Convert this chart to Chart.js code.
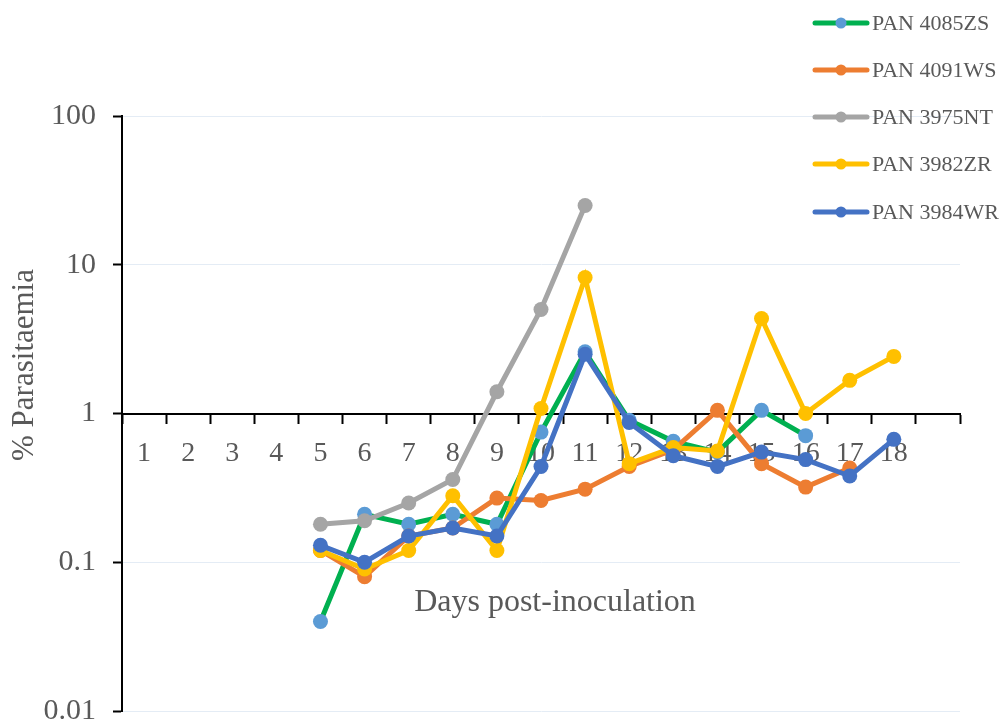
<!DOCTYPE html>
<html lang="en">
<head>
    <meta charset="UTF-8">
    <title>% Parasitaemia by day</title>
    <script src="https://cdn.jsdelivr.net/npm/chart.js@4.4.0/dist/chart.umd.min.js"></script>
    <style>
        html, body {
            margin: 0;
            padding: 0;
            background: #fff;
        }
        .wrap {
            width: 1005px;
            height: 720px;
        }
    </style>
</head>
<body>
<div class="wrap">
    <canvas id="myChart" width="1005" height="720"></canvas>
</div>

<script>
    // x categories (last slot is empty in the original)
    var days = ['1', '2', '3', '4', '5', '6', '7', '8', '9', '10', '11', '12', '13', '14', '15', '16', '17', '18', ''];
    var yTicks = [100, 10, 1, 0.1, 0.01];

    var seriesNames = ['PAN 4085ZS', 'PAN 4091WS', 'PAN 3975NT', 'PAN 3982ZR', 'PAN 3984WR'];

    var pan4085ZS = [null, null, null, null, 0.04, 0.21, 0.18, 0.21, 0.18, 0.75, 2.6, 0.9, 0.65, 0.55, 1.05, 0.71, null, null, null];
    var pan4091WS = [null, null, null, null, 0.12, 0.08, 0.15, 0.17, 0.27, 0.26, 0.31, 0.44, 0.57, 1.05, 0.46, 0.32, 0.43, null, null];
    var pan3975NT = [null, null, null, null, 0.18, 0.19, 0.25, 0.36, 1.4, 5, 25, null, null, null, null, null, null, null, null];
    var pan3982ZR = [null, null, null, null, 0.12, 0.09, 0.12, 0.28, 0.12, 1.08, 8.2, 0.46, 0.59, 0.56, 4.35, 1.0, 1.67, 2.42, null];
    var pan3984WR = [null, null, null, null, 0.13, 0.1, 0.15, 0.17, 0.15, 0.44, 2.5, 0.87, 0.52, 0.44, 0.55, 0.49, 0.38, 0.67, null];

    var lineColors = ['#00B050', '#ED7D31', '#A5A5A5', '#FFC000', '#4472C4'];
    var markerColors = ['#5B9BD5', '#ED7D31', '#A5A5A5', '#FFC000', '#4472C4'];

    var fontFam = '"Liberation Serif", "Times New Roman", serif';
    var textColor = '#595959';

    function makeSet(i, values) {
        return {
            label: seriesNames[i],
            data: values,
            borderColor: lineColors[i],
            backgroundColor: markerColors[i],
            pointBackgroundColor: markerColors[i],
            pointBorderColor: markerColors[i],
            borderWidth: 5,
            pointRadius: 7.5,
            pointBorderWidth: 0,
            tension: 0,
            order: 5 - i
        };
    }

    // axis titles + legend drawn by hand, like the office chart
    var extras = {
        id: 'extras',
        afterDraw: function(chart) {
            var ctx = chart.ctx;
            ctx.save();
            ctx.fillStyle = textColor;

            ctx.font = '32px ' + fontFam;
            ctx.textAlign = 'center';
            ctx.textBaseline = 'middle';
            ctx.fillText('Days post-inoculation', 555, 603);

            ctx.font = '31px ' + fontFam;
            ctx.save();
            ctx.translate(25, 365);
            ctx.rotate(-Math.PI / 2);
            ctx.fillText('% Parasitaemia', 0, 0);
            ctx.restore();

            ctx.font = '22px ' + fontFam;
            ctx.textAlign = 'left';
            var rows = [23, 70, 117, 164, 212];
            chart.data.datasets.forEach(function(ds, i) {
                var y = rows[i];
                ctx.strokeStyle = ds.borderColor;
                ctx.lineWidth = 5;
                ctx.lineCap = 'round';
                ctx.beginPath();
                ctx.moveTo(815, y);
                ctx.lineTo(867, y);
                ctx.stroke();
                ctx.fillStyle = ds.pointBackgroundColor;
                ctx.beginPath();
                ctx.arc(841, y, 5.5, 0, Math.PI * 2);
                ctx.fill();
                ctx.fillStyle = textColor;
                ctx.fillText(ds.label, 872, y + 1);
            });
            ctx.restore();
        }
    };

    let ctx = document.getElementById("myChart").getContext("2d");
    let myChart = new Chart(ctx, {
        type: "line",
        data: {
            labels: days,
            datasets: [
                makeSet(0, pan4085ZS),
                makeSet(1, pan4091WS),
                makeSet(2, pan3975NT),
                makeSet(3, pan3982ZR),
                makeSet(4, pan3984WR)
            ]
        },
        options: {
            responsive: false,
            animation: false,
            layout: {
                padding: {top: 116, bottom: 9, right: 45, left: 0}
            },
            plugins: {
                legend: {display: false},
                tooltip: {enabled: false}
            },
            scales: {
                x: {
                    type: 'category',
                    position: {y: 1},
                    offset: true,
                    afterFit: function(scale) {
                        scale.height = 0;
                        scale.paddingLeft = 0;
                        scale.paddingRight = 0;
                        scale.paddingTop = 0;
                        scale.paddingBottom = 0;
                    },
                    grid: {
                        offset: true,
                        drawOnChartArea: false,
                        drawTicks: true,
                        tickLength: 9,
                        tickWidth: 2,
                        tickColor: '#000'
                    },
                    border: {color: '#000', width: 2},
                    ticks: {
                        color: textColor,
                        font: {family: fontFam, size: 28},
                        padding: 14,
                        maxRotation: 0,
                        autoSkip: false
                    }
                },
                y: {
                    type: 'logarithmic',
                    min: 0.01,
                    max: 100,
                    afterBuildTicks: function(scale) {
                        scale.ticks = yTicks.map(function(v) { return {value: v}; });
                    },
                    afterFit: function(scale) {
                        scale.width = 122;
                        scale.paddingTop = 0;
                        scale.paddingBottom = 0;
                    },
                    grid: {
                        color: '#E4ECF5',
                        lineWidth: 1,
                        drawTicks: true,
                        tickLength: 9,
                        tickWidth: 2,
                        tickColor: '#000'
                    },
                    border: {color: '#000', width: 2},
                    ticks: {
                        color: textColor,
                        font: {family: fontFam, size: 30},
                        padding: 17,
                        callback: function(v) { return String(v); }
                    }
                }
            }
        },
        plugins: [extras]
    });
</script>
</body>
</html>
